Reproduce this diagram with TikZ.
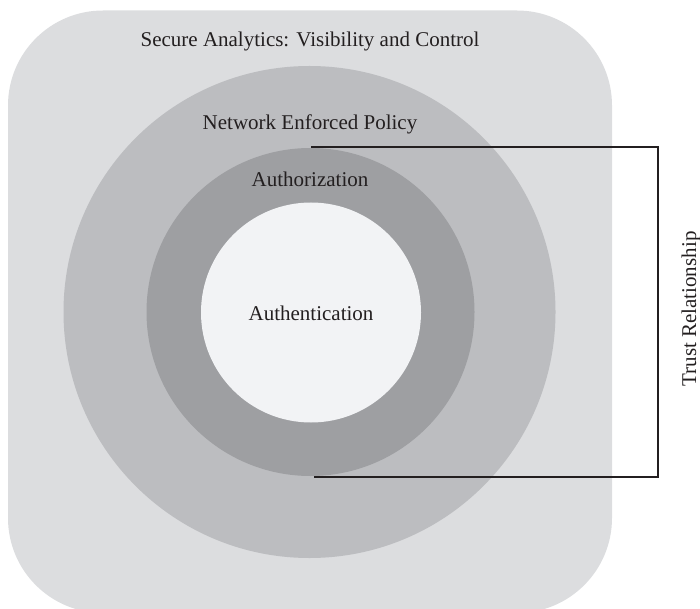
\documentclass[tikz,border=0pt]{standalone}
\usepackage{fontspec}
\setmainfont{Liberation Serif}
\definecolor{rectgray}{HTML}{DCDDDF}
\definecolor{biggray}{HTML}{BCBDC0}
\definecolor{midgray}{HTML}{9E9FA2}
\definecolor{innergray}{HTML}{F2F3F5}
\definecolor{ink}{HTML}{231F20}
\tikzset{
  ring/.style={circle, draw=none, inner sep=0pt},
  lbl/.style={text=ink, font=\fontsize{21}{25}\selectfont, inner sep=0pt, anchor=base},
  bracketline/.style={draw=ink, line width=2pt, line cap=butt, line join=miter}
}
\begin{document}
\begin{tikzpicture}[x=1pt, y=-1pt]
\useasboundingbox (0,0) rectangle (700,609);
\fill[rectgray, rounded corners=95pt] (8,10.5) rectangle (612,613);
\node[ring, fill=biggray, minimum size=492pt] (big) at (309.5,312) {};
\node[ring, fill=midgray, minimum size=328pt] (mid) at (310.5,312) {};
\node[ring, fill=innergray, minimum size=220pt] (inner) at (311,312.5) {};
\node[lbl] (secure) at (310,47) {Secure Analytics: Visibility and Control};
\node[lbl] (policy) at (310,130) {Network Enforced Policy};
\node[lbl] (authz) at (310,187) {Authorization};
\node[lbl] (authn) at (311,320) {Authentication};
\coordinate (t1) at (311,147.5);
\coordinate (t2) at (658,147.5);
\coordinate (b2) at (658,476.5);
\coordinate (b1) at (314,476.5);
\draw[bracketline] (t1) -- (t2) -- (b2) -- (b1);
\node[lbl, rotate=90] (trust) at (696,309) {Trust Relationship};
\end{tikzpicture}
\end{document}
